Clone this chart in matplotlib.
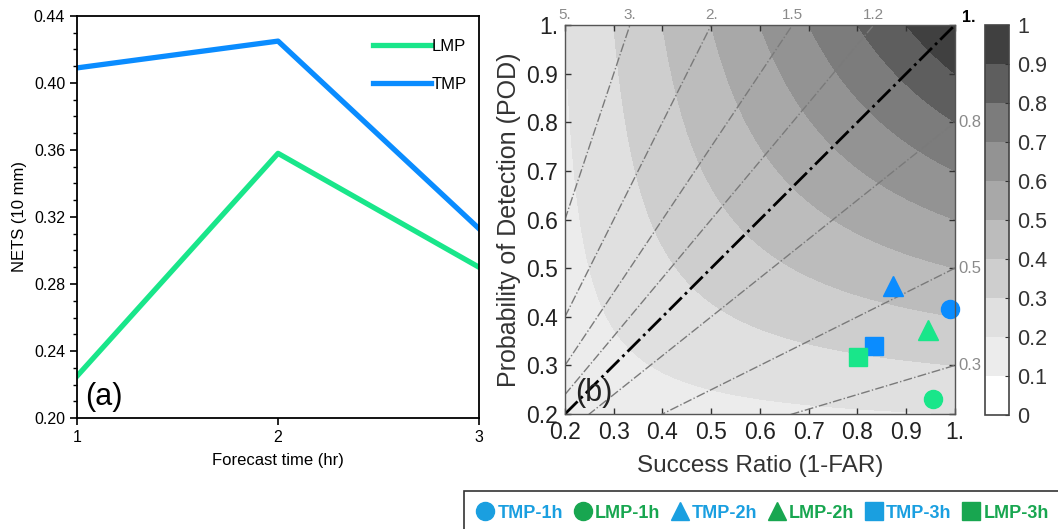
import numpy as np
import matplotlib
matplotlib.use('Agg')
from matplotlib import pyplot as plt
from matplotlib.lines import Line2D

plt.rcParams['font.family'] = ['Liberation Sans', 'DejaVu Sans']

# panel (a) data
forecast_time = [1, 2, 3]
lmp_nets = [0.225, 0.358, 0.290]
tmp_nets = [0.409, 0.425, 0.313]

# panel (b) data: success ratio / POD for each run
point_labels = ['TMP-1h', 'LMP-1h', 'TMP-2h', 'LMP-2h', 'TMP-3h', 'LMP-3h']
point_sr = [0.990, 0.955, 0.873, 0.945, 0.834, 0.801]
point_pod = [0.415, 0.231, 0.463, 0.372, 0.340, 0.317]
point_markers = ['o', 'o', '^', '^', 's', 's']
point_colors = ['#0a8cff', '#19e68a', '#0a8cff', '#19e68a', '#0a8cff', '#19e68a']
legend_colors = ['#1a9fe0', '#18a650', '#1a9fe0', '#18a650', '#1a9fe0', '#18a650']

bias_lines = [0.3, 0.5, 0.8, 1.0, 1.2, 1.5, 2.0, 3.0, 5.0]
bias_top_labels = ['5.', '3.', '2.', '1.5', '1.2']
bias_top_values = [5.0, 3.0, 2.0, 1.5, 1.2]
bias_right_labels = ['0.8', '0.5', '0.3']
bias_right_values = [0.8, 0.5, 0.3]

csi_levels = np.arange(0, 1.01, 0.1)
csi_colors = ['#ffffff', '#ececec', '#e0e0e0', '#cecece', '#bcbcbc',
              '#a8a8a8', '#939393', '#7c7c7c', '#5e5e5e', '#404040']

blue = '#0a8cff'
green = '#19e68a'

fig = plt.figure(figsize=(10.58, 5.29), dpi=100)

# ---- panel (a)
ax1 = fig.add_axes([0.0728, 0.2098, 0.3800, 0.760])
ax1.plot(forecast_time, lmp_nets, color=green, lw=3.8, label='LMP')
ax1.plot(forecast_time, tmp_nets, color=blue, lw=3.8, label='TMP')
ax1.set_xlim(1, 3)
ax1.set_ylim(0.20, 0.44)
ax1.set_xticks([1, 2, 3])
ax1.set_yticks(np.arange(0.20, 0.441, 0.04))
ax1.set_yticks(np.arange(0.20, 0.44, 0.01), minor=True)
ax1.yaxis.set_major_formatter(matplotlib.ticker.FormatStrFormatter('%.2f'))
ax1.tick_params(axis='both', which='major', direction='out', length=5, width=1.2, labelsize=11.5)
ax1.tick_params(axis='y', which='minor', direction='out', length=3, width=1)
for s in ax1.spines.values():
    s.set_linewidth(1.3)
ax1.set_xlabel('Forecast time (hr)', fontsize=12, labelpad=6)
ax1.set_ylabel('NETS (10 mm)', fontsize=12, labelpad=5)
ax1.text(0.02, 0.052, '(a)', transform=ax1.transAxes, fontsize=22, va='center')
leg1 = ax1.legend(loc='upper right', bbox_to_anchor=(1.0, 0.975), frameon=False,
                  fontsize=12, handlelength=3.5, handletextpad=0.0,
                  labelspacing=1.4, borderaxespad=0.35)

# ---- panel (b)
ax2 = fig.add_axes([0.534, 0.2174, 0.3686, 0.7353])
sr = np.linspace(0.2, 1.0, 400)
pod = np.linspace(0.2, 1.0, 400)
SR, POD = np.meshgrid(sr, pod)
csi = 1.0 / (1.0 / SR + 1.0 / POD - 1.0)
cf = ax2.contourf(SR, POD, csi, levels=csi_levels, colors=csi_colors)

for b in bias_lines:
    if b == 1.0:
        ax2.plot(sr, b * sr, color='black', lw=2.0, ls='-.')
    else:
        ax2.plot(sr, b * sr, color='#7a7a7a', lw=1.0, ls='-.')

for lab, b in zip(bias_top_labels, bias_top_values):
    ax2.text(1.0 / b, 1.007, lab, color='#8a8a8a', fontsize=11, ha='center', va='bottom')
ax2.text(1.015, 1.0, '1.', color='black', fontsize=11.5, fontweight='bold',
         ha='left', va='bottom')
for lab, b in zip(bias_right_labels, bias_right_values):
    ax2.text(1.006, b, lab, color='#8a8a8a', fontsize=12, ha='left', va='center')

for x, y, m, c in zip(point_sr, point_pod, point_markers, point_colors):
    size = 14 if m == '^' else 13
    ax2.plot(x, y, marker=m, color=c, markersize=size, ls='none', clip_on=False)

ax2.set_xlim(0.2, 1.0)
ax2.set_ylim(0.2, 1.0)
ticks = np.arange(0.2, 1.01, 0.1)
tick_labels = ['%.1f' % t for t in ticks[:-1]] + ['1.']
ax2.set_xticks(ticks)
ax2.set_xticklabels(tick_labels)
ax2.set_yticks(ticks)
ax2.set_yticklabels(tick_labels)
ax2.tick_params(direction='in', top=True, right=True, length=4, width=1,
                labelsize=16.5, colors='#333333', pad=5)
ax2.tick_params(labelcolor='#222222')
for s in ax2.spines.values():
    s.set_color('#555555')
    s.set_linewidth(1.0)
ax2.set_xlabel('Success Ratio (1-FAR)', fontsize=17.5, color='#333333', labelpad=8)
ax2.set_ylabel('Probability of Detection (POD)', fontsize=18, color='#333333', labelpad=4)
ax2.text(0.22, 0.243, '(b)', fontsize=22, color='#222222', va='center')

# colorbar
cax = fig.add_axes([0.931, 0.2155, 0.0227, 0.7372])
cb = fig.colorbar(cf, cax=cax)
cb.set_ticks(csi_levels)
cb.set_ticklabels(['0', '0.1', '0.2', '0.3', '0.4', '0.5', '0.6', '0.7', '0.8', '0.9', '1'])
cb.ax.tick_params(labelsize=15.5, direction='in', length=3, colors='#333333', pad=6)
cb.outline.set_edgecolor('#444444')
cb.outline.set_linewidth(1.2)

# bottom legend
handles = [Line2D([], [], marker=m, color=c, ls='none', markersize=13)
           for m, c in zip(point_markers, legend_colors)]
leg2 = fig.legend(handles, point_labels, loc='center right',
                  bbox_to_anchor=(1.004, 0.03), ncol=6, frameon=True,
                  fancybox=False, edgecolor='black',
                  prop={'weight': 'bold', 'size': 13},
                  handlelength=0.9, handletextpad=0.25, columnspacing=0.6,
                  borderpad=0.75, borderaxespad=0)
leg2.get_frame().set_linewidth(1.2)
for t, c in zip(leg2.get_texts(), legend_colors):
    t.set_color(c)

fig.savefig('out.png', dpi=100)
